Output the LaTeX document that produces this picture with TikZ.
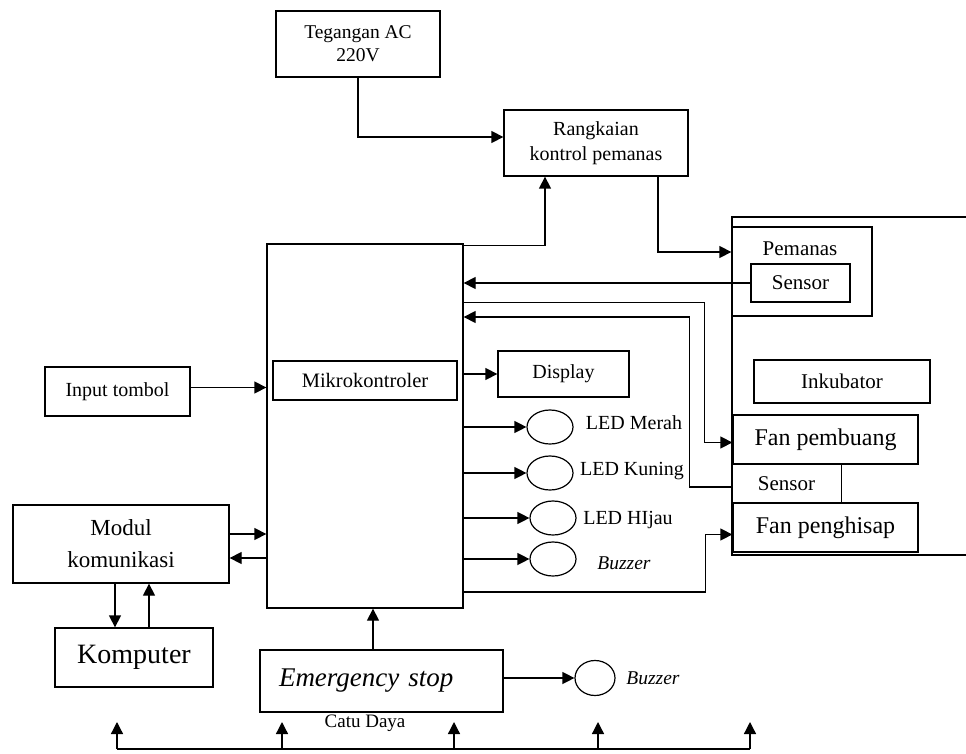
\documentclass[tikz,border=0pt]{standalone}
\usepackage{fontspec}
\setmainfont{Liberation Serif}
\usetikzlibrary{arrows.meta, shapes.geometric}

\tikzset{
  blok/.style={draw, line width=1.3pt, inner sep=0pt, align=center},
  led/.style={draw, ellipse, line width=1.2pt, minimum width=46pt, minimum height=34pt, inner sep=0pt},
  panah/.style={line width=1.3pt, -{Triangle[length=12pt,width=12pt]}},
  garis/.style={line width=1.3pt},
  teks/.style={font=\fontsize{20}{24}\selectfont},
  miring/.style={font=\fontsize{19.5}{22}\selectfont\itshape},
}

\begin{document}
\begin{tikzpicture}[x=1pt, y=-1pt, teks]
\useasboundingbox (0,0) rectangle (966,754);
\node[blok, minimum width=196pt, minimum height=364pt] (mikro) at (365,426) {};
\node[blok, minimum width=184pt, minimum height=39pt, font=\fontsize{20.5}{24}\selectfont] (mk) at (365,380.5) {Mikrokontroler};
\node[blok, minimum width=164pt, minimum height=66pt, font=\fontsize{19.5}{23}\selectfont] (teg) at (358,44) {Tegangan AC\\220V};
\node[blok, minimum width=184pt, minimum height=66pt, font=\fontsize{20}{25}\selectfont] (rang) at (596,143) {Rangkaian\\kontrol pemanas};
\node[blok, minimum width=131pt, minimum height=46pt] (disp) at (563.5,374) {Display};
\node[blok, minimum width=145pt, minimum height=49pt] (inp) at (117.5,391.5) {Input tombol};
\node[blok, minimum width=216pt, minimum height=78pt, font=\fontsize{23}{32}\selectfont] (modul) at (121,544) {Modul\\komunikasi};
\node[blok, minimum width=158pt, minimum height=59pt, font=\fontsize{28}{30}\selectfont] (komp) at (134,657.5) {Komputer};
\node[blok, minimum height=62pt, text width=205pt, inner xsep=19pt, align=left, font=\fontsize{27}{30}\selectfont\itshape] (emg) at (381.5,681) {Emergency stop};
\draw[garis] (966,217) -- (732,217) -- (732,555) -- (966,555);
\node[blok, minimum width=140pt, minimum height=89pt] (pem) at (802,271.5) {};
\node[font=\fontsize{21}{24}\selectfont] (pemtxt) at (800,249) {Pemanas};
\node[blok, minimum width=99pt, minimum height=38pt, font=\fontsize{21}{24}\selectfont] (sen1) at (800.5,283) {Sensor};
\node[blok, minimum width=176pt, minimum height=43pt, font=\fontsize{21}{24}\selectfont] (ink) at (842,381.5) {Inkubator};
\node[blok, minimum width=185pt, minimum height=49pt, font=\fontsize{24}{26}\selectfont] (fanb) at (825.5,439.5) {Fan pembuang};
\node[blok, minimum width=185pt, minimum height=49pt, font=\fontsize{24}{26}\selectfont] (fanp) at (825.5,527.5) {Fan penghisap};
\node[minimum width=109pt, minimum height=39pt, inner sep=0pt, font=\fontsize{21}{24}\selectfont] (sen2) at (786.5,483.5) {Sensor};
\draw[garis] (sen2.north east) -- (sen2.south east);
\node[led] (led1) at (550,427) {};
\node[led] (led2) at (550,473) {};
\node[led] (led3) at (553,518) {};
\node[led] (bz1) at (553,559) {};
\node[led, minimum width=40pt, minimum height=35pt] (bz2) at (595,678) {};
\node (tled1) at (634,423) {LED Merah};
\node (tled2) at (632,471) {LED Kuning};
\node (tled3) at (628,520) {LED HIjau};
\node[miring] (tbz1) at (624,563) {Buzzer};
\node[miring] (tbz2) at (653,678) {Buzzer};
\node[font=\fontsize{19}{22}\selectfont] (catu) at (365,723) {Catu Daya};
\draw[panah] (teg.south) |- ([yshift=6pt]rang.west);
\draw[panah] ([yshift=-2pt]mikro.north east) -| ([xshift=-51pt]rang.south);
\draw[panah] ([xshift=62pt]rang.south) |- ([yshift=19.5pt]pem.west);
\draw[panah] (sen1.west) -- (sen1.west -| mikro.east);
\draw[panah] (mikro.east |- sen1.south) -- ++(241,0) |- ([yshift=-3pt]fanb.west);
\draw[panah] ([yshift=-3.5pt]sen2.west) -- ++(-42,0) |- (mikro.east |- 0,317);
\draw[panah] ([yshift=4pt]inp.east) -- ([yshift=4pt]inp.east -| mikro.west);
\draw[panah] (disp.west -| mikro.east) -- (disp.west);
\foreach \n in {led1,led2,led3,bz1}
  \draw[panah] (\n.west -| mikro.east) -- (\n.west);
\draw[panah] (mikro.east |- 0,592) -- ++(242,0) |- ([yshift=-7pt]fanp.west);
\draw[panah] ([yshift=10pt]modul.east) -- ([yshift=10pt]modul.east -| mikro.west);
\draw[panah] ([yshift=-14pt]modul.east -| mikro.west) -- ([yshift=-14pt]modul.east);
\draw[panah] ([xshift=-6pt]modul.south) -- ([xshift=-6pt]modul.south |- komp.north);
\draw[panah] ([xshift=15pt]komp.north) -- ([xshift=15pt]komp.north |- modul.south);
\draw[panah] ([xshift=-8.5pt]emg.north) -- ([xshift=-8.5pt]emg.north |- mikro.south);
\draw[panah] (bz2.west -| emg.east) -- (bz2.west);
\coordinate (busL) at (117,749);
\foreach \x [count=\i] in {117,282,454,598,750}
  \coordinate (cd\i) at (\x,722);
\draw[garis] (cd1 |- busL) -- (cd5 |- busL);
\foreach \i in {1,...,5}
  \draw[panah] (cd\i |- busL) -- (cd\i);
\end{tikzpicture}
\end{document}
